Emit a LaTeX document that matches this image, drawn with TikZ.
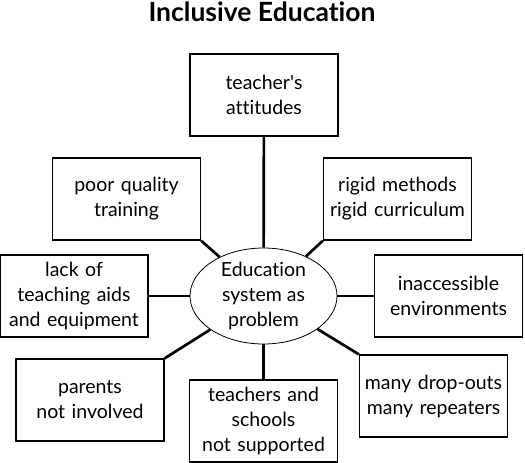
\documentclass[tikz,border=0pt]{standalone}
\usepackage{fontspec}
\setmainfont[Ligatures={NoCommon}]{Lato}
\usetikzlibrary{shapes.geometric}

\tikzset{
  cause/.style={rectangle, draw, line width=1.3pt,
    text width=146pt, align=center, inner sep=1pt,
    minimum height=82pt, font=\fontsize{19.5}{25}\selectfont},
  link/.style={line width=2.7pt},
}

\begin{document}
\begin{tikzpicture}[x=1pt, y=-1pt]
\useasboundingbox (0,0) rectangle (525,463);

\node[font=\bfseries\fontsize{26.5}{30}\selectfont] (title) at (262,12) {Inclusive Education};

% centre
\node[ellipse, draw, line width=0.8pt, align=center,
      minimum width=147pt, minimum height=96pt, inner sep=0pt,
      font=\fontsize{19.5}{25}\selectfont]
(edu) at (263.5,296) {Education\\system as\\problem};

% the causes
\node[cause] (attitudes) at (264,95) {teacher\textquotesingle s\\attitudes};
\node[cause] (training) at (126.5,199) {poor quality\\training};
\node[cause] (rigid) at (397.5,199) {rigid methods\\rigid curriculum};
\node[cause] (aids) at (74,296) {lack of\\teaching aids\\and equipment};
\node[cause] (access) at (448.5,296) {inaccessible\\environments};
\node[cause] (parents) at (90,400) {parents\\not involved};
\node[cause] (support) at (263.5,421) {teachers and\\schools\\not supported};
\node[cause] (dropouts) at (433.5,396) {many drop-outs\\many repeaters};

\draw[link] (attitudes) -- (edu);
\draw[link] (training.south east) -- (edu);
\draw[link] (rigid.south west) -- (edu);
\draw[link] (aids) -- (edu);
\draw[link] (access) -- (edu);
\draw[link] (parents.north east) -- (edu);
\draw[link] (support) -- (edu);
\draw[link] (dropouts.north west) -- (edu);

\end{tikzpicture}
\end{document}
